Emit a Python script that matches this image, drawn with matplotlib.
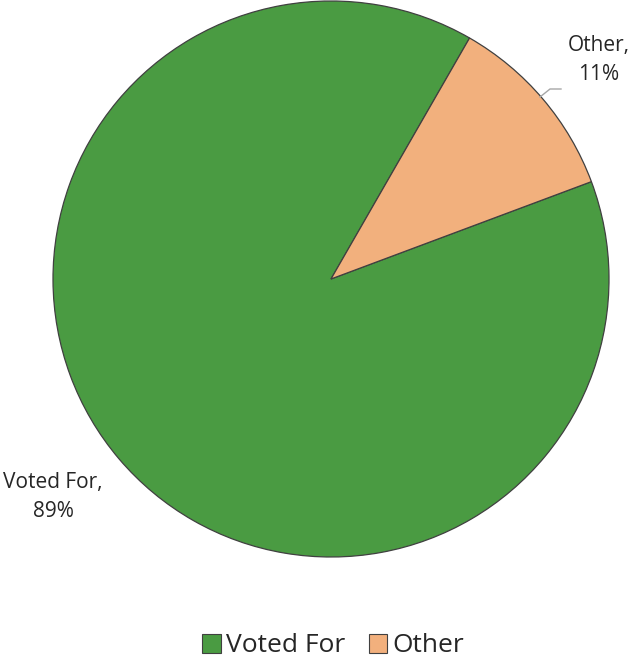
import matplotlib.pyplot as plt
from matplotlib.patches import Patch

labels = ["Voted For", "Other"]
values = [89, 11]
colors = ["#4a9b42", "#f2b07d"]

W, H = 629, 659
fig = plt.figure(figsize=(W / 100, H / 100), dpi=100)
ax = fig.add_axes([0, 0, 1, 1])

wedges, _ = ax.pie(values, colors=colors, startangle=20.5, counterclock=False,
                   center=(331, H - 279), radius=278, frame=True,
                   wedgeprops=dict(edgecolor="#404040", linewidth=0.9))
ax.set_xlim(0, W)
ax.set_ylim(0, H)
ax.set_aspect("equal")
ax.axis("off")

font = "Open Sans"
ax.text(599, H - 60, "Other,\n11%", ha="center", va="center", fontsize=15,
        family=font, color="#262626", linespacing=1.45)
ax.text(53, H - 497, "Voted For,\n89%", ha="center", va="center", fontsize=15,
        family=font, color="#262626", linespacing=1.45)

# leader line for Other
ax.plot([540, 550, 561], [H - 97, H - 89, H - 89], color="#a6a6a6", lw=1)

handles = [Patch(facecolor=c, edgecolor="#404040", linewidth=0.8) for c in colors]
fig.legend(handles, labels, loc="center", bbox_to_anchor=(0.53, 1 - 646 / H),
           ncol=2, frameon=False, prop={"family": font, "size": 19},
           handlelength=0.7, handleheight=0.7, handletextpad=0.2,
           columnspacing=0.9, labelcolor="#262626")

fig.savefig("out.png", dpi=100)
